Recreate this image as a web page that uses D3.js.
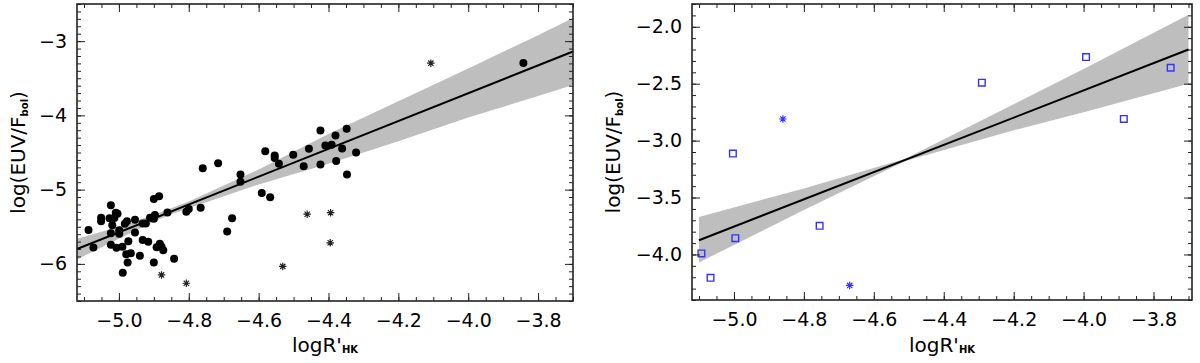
<!DOCTYPE html>
<html>
<head>
<meta charset="utf-8">
<script src="https://cdn.jsdelivr.net/npm/d3@7"></script>
<style>
  body { margin: 0; background: #fff; }
  svg { display: block; font-family: "DejaVu Sans", sans-serif; }
</style>
</head>
<body>
<div id="chart"></div>
<script>
// left panel: filled circles, asterisks, fit and its band
const leftDotX = [-5.087, -5.073, -5.051, -5.051, -5.023, -5.027, -5.023, -5.023, -5.019, -5.013, -5.009, -5.004, -5.007, -4.999, -4.999, -4.990, -4.989, -4.983, -4.977, -4.973, -4.979, -4.975, -4.966, -4.954, -4.954, -4.940, -4.932, -4.923, -4.932, -4.916, -4.911, -4.900, -4.900, -4.900, -4.897, -4.892, -4.885, -4.883, -4.878, -4.873, -4.861, -4.842, -4.807, -4.800, -4.766, -4.760, -4.716, -4.690, -4.676, -4.652, -4.652, -4.591, -4.581, -4.567, -4.554, -4.554, -4.542, -4.501, -4.471, -4.456, -4.423, -4.423, -4.409, -4.391, -4.380, -4.378, -4.361, -4.348, -4.347, -4.321, -3.842];
const leftDotY = [-5.545, -5.780, -5.378, -5.426, -5.209, -5.385, -5.588, -5.743, -5.480, -5.382, -5.311, -5.324, -5.784, -5.547, -5.595, -5.770, -6.118, -5.459, -5.426, -5.696, -5.872, -5.982, -5.858, -5.405, -5.577, -5.892, -5.455, -5.455, -5.680, -5.703, -5.378, -5.126, -5.982, -5.392, -5.342, -5.777, -5.088, -5.730, -5.770, -5.815, -5.307, -5.930, -5.297, -5.261, -5.243, -4.712, -4.645, -5.565, -5.385, -4.797, -4.895, -5.047, -4.484, -5.104, -4.541, -4.574, -4.653, -4.531, -4.685, -4.449, -4.205, -4.662, -4.405, -4.396, -4.270, -4.615, -4.446, -4.180, -4.797, -4.500, -3.293];
const leftStarX = [-4.878, -4.807, -4.531, -4.461, -4.394, -4.395, -4.107];
const leftStarY = [-6.149, -6.261, -6.034, -5.331, -5.311, -5.716, -3.297];
const leftFitX = [-5.12, -3.70];
const leftFitY = [-5.80, -3.14];
const leftBandX  = [-5.12, -5.00, -4.90, -4.85, -4.80, -4.60, -4.40, -4.20, -4.00, -3.80, -3.70];
const leftBandHi = [-5.66, -5.50, -5.34, -5.25, -5.16, -4.73, -4.25, -3.81, -3.37, -2.92, -2.69];
const leftBandLo = [-5.94, -5.66, -5.43, -5.33, -5.25, -4.93, -4.65, -4.35, -4.03, -3.74, -3.59];

// right panel: open squares, asterisks, fit and its band
const rightBoxX = [-5.093, -5.067, -5.003, -4.996, -4.755, -4.291, -3.993, -3.885, -3.751];
const rightBoxY = [-3.991, -4.205, -3.114, -3.857, -3.748, -2.491, -2.266, -2.810, -2.360];
const rightStarX = [-4.860, -4.669];
const rightStarY = [-2.810, -4.272];
const rightFitX = [-5.10, -3.70];
const rightFitY = [-3.875, -2.20];
const rightBandX  = [-5.10, -4.80, -4.51, -4.20, -4.00, -3.70];
const rightBandHi = [-3.67, -3.42, -3.16, -2.68, -2.37, -1.895];
const rightBandLo = [-4.07, -3.61, -3.18, -2.91, -2.75, -2.50];

const xTicks = [-5.0, -4.8, -4.6, -4.4, -4.2, -4.0, -3.8];
const leftYTicks = [-6, -5, -4, -3];
const rightYTicks = [-4.0, -3.5, -3.0, -2.5, -2.0];

const W = 1200, H = 363;
const svg = d3.select("#chart").append("svg").attr("width", W).attr("height", H);

const asterisk = {
  draw(ctx, size) {
    const r = Math.sqrt(size) / 2, d = r * Math.SQRT1_2;
    ctx.moveTo(-r, 0); ctx.lineTo(r, 0);
    ctx.moveTo(0, -r); ctx.lineTo(0, r);
    ctx.moveTo(-d, -d); ctx.lineTo(d, d);
    ctx.moveTo(-d, d); ctx.lineTo(d, -d);
  }
};

function panel(o) {
  const x = d3.scaleLinear().domain(o.xDomain).range([o.left, o.right]);
  const y = d3.scaleLinear().domain(o.yDomain).range([o.bottom, o.top]);
  const g = svg.append("g");

  const band = d3.area().x(d => x(d[0])).y0(d => y(d[2])).y1(d => y(d[1]));
  g.append("path")
    .datum(o.bandX.map((v, i) => [v, o.bandHi[i], o.bandLo[i]]))
    .attr("d", band).attr("fill", "#bebebe");

  g.append("path")
    .datum(o.fitX.map((v, i) => [v, o.fitY[i]]))
    .attr("d", d3.line().x(d => x(d[0])).y(d => y(d[1])))
    .attr("fill", "none").attr("stroke", "#000").attr("stroke-width", 2);

  if (o.dotX) {
    g.selectAll(".dot").data(o.dotX.map((v, i) => [v, o.dotY[i]])).join("circle")
      .attr("cx", d => x(d[0])).attr("cy", d => y(d[1])).attr("r", 4).attr("fill", "#000");
  }
  if (o.boxX) {
    g.selectAll(".box").data(o.boxX.map((v, i) => [v, o.boxY[i]])).join("path")
      .attr("transform", d => `translate(${x(d[0])},${y(d[1])})`)
      .attr("d", d3.symbol(d3.symbolSquare, 44))
      .attr("fill", "none").attr("stroke", o.color).attr("stroke-width", 1.4);
  }
  g.selectAll(".star").data(o.starX.map((v, i) => [v, o.starY[i]])).join("path")
    .attr("transform", d => `translate(${x(d[0])},${y(d[1])})`)
    .attr("d", d3.symbol(asterisk, 56))
    .attr("fill", "none").attr("stroke", o.color).attr("stroke-width", 1.2);

  // axes with inward ticks on all four sides
  const xMinor = d3.range(-5.10, -3.69, 0.05);
  const yMinor = d3.range(o.yDomain[0], o.yDomain[1] + 0.001, 0.1);
  const axes = [
    [d3.axisBottom(x).tickValues(xTicks).tickFormat(d3.format(".1f")), `translate(0,${o.bottom})`, true],
    [d3.axisBottom(x).tickValues(xMinor).tickFormat(""), `translate(0,${o.bottom})`, false],
    [d3.axisTop(x).tickValues(xTicks).tickFormat(""), `translate(0,${o.top})`, true],
    [d3.axisTop(x).tickValues(xMinor).tickFormat(""), `translate(0,${o.top})`, false],
    [d3.axisLeft(y).tickValues(o.yTicks).tickFormat(d3.format(o.yFmt)), `translate(${o.left},0)`, true],
    [d3.axisLeft(y).tickValues(yMinor).tickFormat(""), `translate(${o.left},0)`, false],
    [d3.axisRight(y).tickValues(o.yTicks).tickFormat(""), `translate(${o.right},0)`, true],
    [d3.axisRight(y).tickValues(yMinor).tickFormat(""), `translate(${o.right},0)`, false]
  ];
  axes.forEach(([ax, tr, major]) => {
    const horiz = tr.startsWith("translate(0");
    ax.tickSize(major ? -8 : -4).tickPadding(horiz ? 13 : 10);
    const a = g.append("g").attr("transform", tr).call(ax);
    a.select(".domain").remove();
    a.selectAll("line").attr("stroke", "#222");
    a.selectAll("text").attr("font-size", 19).attr("font-family", "DejaVu Sans, sans-serif").attr("fill", "#000");
  });

  g.append("rect")
    .attr("x", o.left).attr("y", o.top)
    .attr("width", o.right - o.left).attr("height", o.bottom - o.top)
    .attr("fill", "none").attr("stroke", "#222").attr("stroke-width", 1.6);

  const xt = g.append("text")
    .attr("x", (o.left + o.right) / 2).attr("y", 352)
    .attr("text-anchor", "middle").attr("font-size", 20);
  xt.append("tspan").text("logR'");
  xt.append("tspan").attr("font-size", 10).attr("font-weight", "bold").attr("dy", 1).text("HK");

  const yt = g.append("text")
    .attr("transform", `translate(${o.titleX},${(o.top + o.bottom) / 2}) rotate(-90)`)
    .attr("text-anchor", "middle").attr("font-size", 20);
  yt.append("tspan").text("log(EUV/F");
  yt.append("tspan").attr("font-size", 10).attr("font-weight", "bold").attr("dy", 3).text("bol");
  yt.append("tspan").attr("dy", -3).text(")");
}

panel({
  left: 77, right: 573, top: 4, bottom: 301,
  xDomain: [-5.12, -3.70], yDomain: [-6.5, -2.5],
  yTicks: leftYTicks, yFmt: "d", titleX: 25, color: "#222",
  dotX: leftDotX, dotY: leftDotY, starX: leftStarX, starY: leftStarY,
  fitX: leftFitX, fitY: leftFitY, bandX: leftBandX, bandHi: leftBandHi, bandLo: leftBandLo
});

panel({
  left: 692, right: 1192, top: 4, bottom: 300,
  xDomain: [-5.12, -3.69], yDomain: [-4.4, -1.8],
  yTicks: rightYTicks, yFmt: ".1f", titleX: 620, color: "#3333ff",
  boxX: rightBoxX, boxY: rightBoxY, starX: rightStarX, starY: rightStarY,
  fitX: rightFitX, fitY: rightFitY, bandX: rightBandX, bandHi: rightBandHi, bandLo: rightBandLo
});
</script>
</body>
</html>
